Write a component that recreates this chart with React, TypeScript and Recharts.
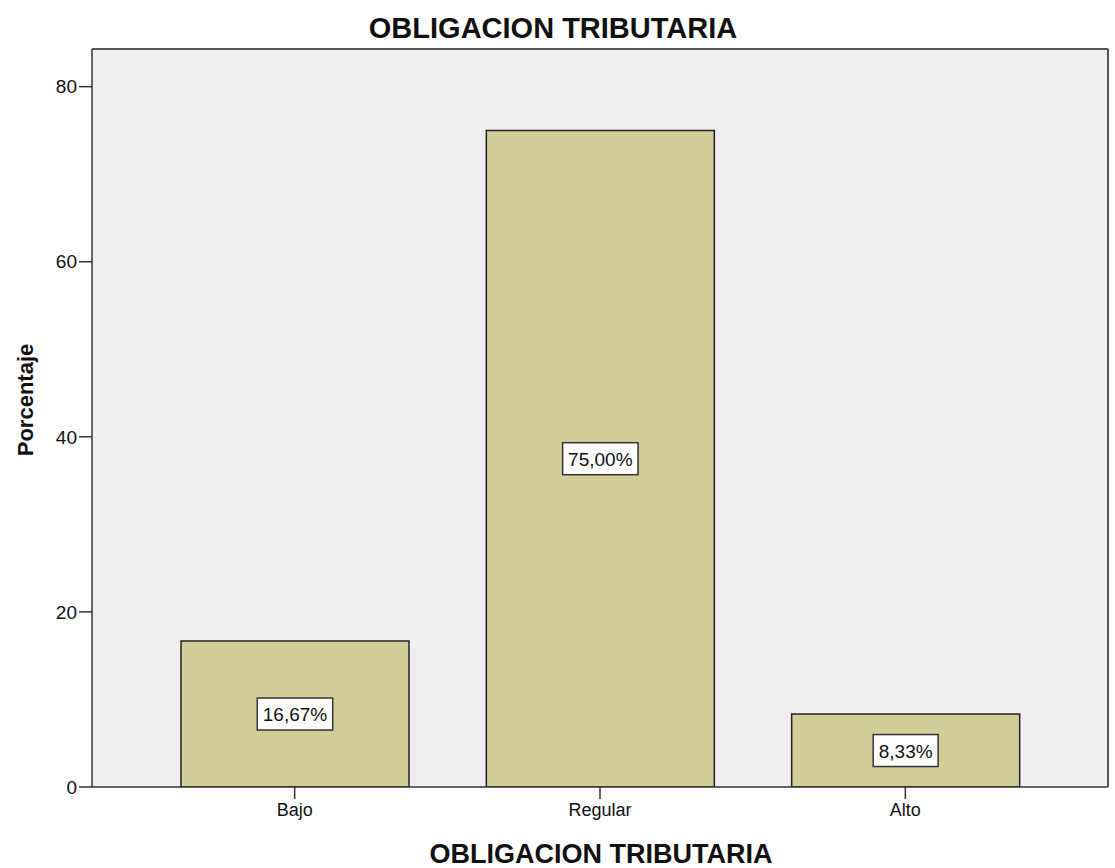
import { BarChart, Bar, XAxis, YAxis, CartesianGrid, LabelList } from "recharts";

const categories = ["Bajo", "Regular", "Alto"];
const percentages = [16.67, 75.0, 8.33];
const yTicks = [0, 20, 40, 60, 80];

const data = categories.map((name, i) => ({ name, value: percentages[i] }));

const FONT = "'Liberation Sans', Arial, sans-serif";

function fmt(v: number) {
  return v.toFixed(2).replace(".", ",") + "%";
}

const BoxLabel = (props: any) => {
  const { x, y, width, height, value } = props;
  const text = fmt(value);
  // approximate text width for a 19px Arial-like font
  let w = 0;
  for (const ch of text) w += ch === "," ? 0.278 : ch === "%" ? 0.889 : 0.556;
  const boxW = w * 19 + 11;
  const boxH = 32;
  const cx = x + width / 2;
  const cy = y + height / 2;
  return (
    <g>
      <rect x={cx - boxW / 2} y={cy - boxH / 2} width={boxW} height={boxH} fill="#ffffff" stroke="#333" strokeWidth={1.5} />
      <text x={cx} y={cy + 7} textAnchor="middle" fontSize={19} fontFamily={FONT} fill="#111">
        {text}
      </text>
    </g>
  );
};

export default function App() {
  return (
    <div style={{ position: "absolute", left: 0, top: 0, width: 1115, height: 868, background: "#fff" }}>
      <BarChart
        width={1115}
        height={868}
        data={data}
        margin={{ top: 48, right: 6, bottom: 0, left: 0 }}
        barSize={228}
      >
        <CartesianGrid fill="#efefef" stroke="none" horizontal={false} vertical={false} />
        <XAxis
          dataKey="name"
          height={81}
          padding={{ left: 50, right: 50 }}
          axisLine={{ stroke: "#333", strokeWidth: 1.5 }}
          tickLine={{ stroke: "#333", strokeWidth: 1.5 }}
          tickSize={12}
          tickMargin={4}
          tick={{ fontSize: 18, fill: "#111", fontFamily: FONT }}
        />
        <XAxis
          xAxisId="top"
          dataKey="name"
          orientation="top"
          height={1}
          tick={false}
          tickLine={false}
          axisLine={{ stroke: "#555", strokeWidth: 2 }}
        />
        <YAxis
          width={92}
          domain={[0, 84.3]}
          ticks={yTicks}
          allowDataOverflow
          axisLine={{ stroke: "#333", strokeWidth: 1.5 }}
          tickLine={{ stroke: "#333", strokeWidth: 1.5 }}
          tickSize={13}
          tickMargin={2}
          tick={{ fontSize: 19, fill: "#111", fontFamily: FONT }}
        />
        <YAxis
          yAxisId="right"
          orientation="right"
          width={1}
          domain={[0, 84.3]}
          tick={false}
          tickLine={false}
          axisLine={{ stroke: "#555", strokeWidth: 2 }}
        />
        <Bar dataKey="value" fill="#d3ce99" stroke="#222" strokeWidth={1.5} isAnimationActive={false}>
          <LabelList dataKey="value" content={<BoxLabel />} />
        </Bar>
        <text x={553} y={38} textAnchor="middle" fontSize={29} fontWeight="bold" fontFamily={FONT} fill="#111">
          OBLIGACION TRIBUTARIA
        </text>
        <text x={601} y={863} textAnchor="middle" fontSize={27} fontWeight="bold" fontFamily={FONT} fill="#111">
          OBLIGACION TRIBUTARIA
        </text>
        <text
          x={33}
          y={400}
          textAnchor="middle"
          fontSize={22}
          fontWeight="bold"
          fontFamily={FONT}
          fill="#111"
          transform="rotate(-90 33 400)"
        >
          Porcentaje
        </text>
      </BarChart>
    </div>
  );
}
